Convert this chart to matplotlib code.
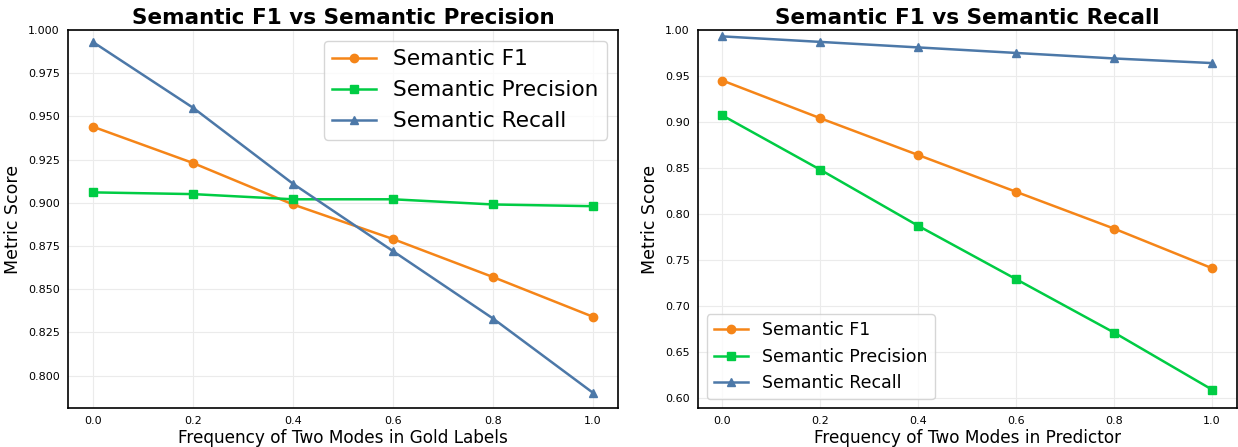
import matplotlib
matplotlib.use("Agg")
import matplotlib.pyplot as plt

freq = [0.0, 0.2, 0.4, 0.6, 0.8, 1.0]

# Varying the two-mode frequency in the gold labels
gold_f1 = [0.944, 0.923, 0.899, 0.879, 0.857, 0.834]
gold_precision = [0.906, 0.905, 0.902, 0.902, 0.899, 0.898]
gold_recall = [0.993, 0.955, 0.911, 0.872, 0.833, 0.790]

# Varying the two-mode frequency in the predictor
pred_f1 = [0.945, 0.904, 0.864, 0.824, 0.784, 0.741]
pred_precision = [0.907, 0.848, 0.787, 0.729, 0.671, 0.609]
pred_recall = [0.993, 0.987, 0.981, 0.975, 0.969, 0.964]

labels = ["Semantic F1", "Semantic Precision", "Semantic Recall"]
colors = ["#f58518", "#00cc44", "#4c78a8"]
markers = ["o", "s", "^"]

fig = plt.figure(figsize=(12.38, 4.47), dpi=100)
ax1 = fig.add_axes([0.0549, 0.0872, 0.4443, 0.8458])
ax2 = fig.add_axes([0.5638, 0.0872, 0.4350, 0.8458])


def draw(ax, series, title, xlabel, legend_loc, legend_size):
    for vals, lab, col, mk in zip(series, labels, colors, markers):
        ax.plot(freq, vals, marker=mk, color=col, label=lab,
                linewidth=1.8, markersize=6)
    ax.set_title(title, fontsize=15.5, fontweight="bold", pad=4)
    ax.set_xlabel(xlabel, fontsize=12.2, labelpad=2)
    ax.set_ylabel("Metric Score", fontsize=12.5)
    ax.grid(True, color="#ebebeb", linewidth=0.8)
    ax.set_axisbelow(True)
    ax.tick_params(length=0, labelsize=8, pad=6)
    for s in ax.spines.values():
        s.set_color("black")
        s.set_linewidth(1.2)
    ax.legend(loc=legend_loc, fontsize=legend_size, framealpha=0.8,
              edgecolor="#cccccc")


draw(ax1, [gold_f1, gold_precision, gold_recall],
     "Semantic F1 vs Semantic Precision",
     "Frequency of Two Modes in Gold Labels", "upper right", 15.6)
ax1.set_ylim(0.7812, 1.0)
ax1.set_yticks([0.800, 0.825, 0.850, 0.875, 0.900, 0.925, 0.950, 0.975, 1.000])
ax1.set_yticklabels(["0.800", "0.825", "0.850", "0.875", "0.900",
                     "0.925", "0.950", "0.975", "1.000"])

draw(ax2, [pred_f1, pred_precision, pred_recall],
     "Semantic F1 vs Semantic Recall",
     "Frequency of Two Modes in Predictor", "lower left", 12.5)
ax2.set_ylim(0.589, 1.0)
ax2.set_yticks([0.60, 0.65, 0.70, 0.75, 0.80, 0.85, 0.90, 0.95, 1.00])
ax2.set_yticklabels(["0.60", "0.65", "0.70", "0.75", "0.80",
                     "0.85", "0.90", "0.95", "1.00"])

fig.savefig("out.png", dpi=100)
